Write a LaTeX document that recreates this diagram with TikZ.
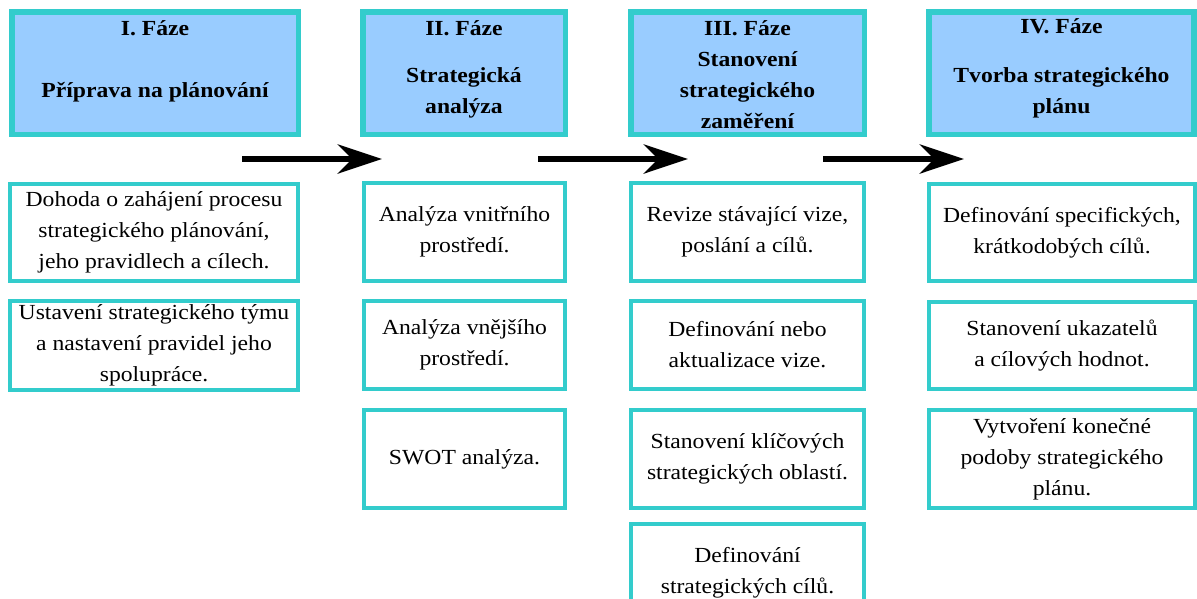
\documentclass[tikz,border=0pt]{standalone}
\usepackage{fontspec}
\setmainfont{Liberation Serif}[FakeStretch=1.1]
\usetikzlibrary{arrows.meta}
\definecolor{phaseline}{HTML}{33CCCC}
\definecolor{phasefill}{HTML}{99CCFF}
\tikzset{
  phasebox/.style={draw=phaseline, fill=phasefill, line width=5.5pt, rectangle, inner sep=0pt},
  phasetext/.style={font=\fontsize{21.5}{31}\selectfont\bfseries, align=center, anchor=north, inner sep=0pt},
  stepbox/.style={draw=phaseline, line width=4pt, rectangle, inner sep=0pt,
    font=\fontsize{21.5}{31}\selectfont, align=center},
  flow/.style={line width=6.7pt, -{Stealth[length=44pt,width=29pt,inset=14pt]}}
}
\begin{document}
\begin{tikzpicture}[x=1pt, y=-1pt]
\clip (0,0) rectangle (1197,598);
\fill[white] (0,0) rectangle (1197,598);

% phase headers
\node[phasebox, minimum width=286.5pt, minimum height=122.5pt] (h1) at (155,73) {};
\node[phasebox, minimum width=202.5pt, minimum height=122.5pt] (h2) at (464,73) {};
\node[phasebox, minimum width=233.5pt, minimum height=122.5pt] (h3) at (747.5,73) {};
\node[phasebox, minimum width=265pt, minimum height=122.5pt] (h4) at (1061.5,73) {};

\node[phasetext] (t1) at (155,13.3) {\strut I. Fáze\\[31pt]Příprava na plánování};
\node[phasetext] (t2) at (464,13.3) {\strut II. Fáze\\[16pt]Strategická\\analýza};
\node[phasetext] (t3) at (747.5,13.3) {\strut III. Fáze\\Stanovení\\strategického\\zaměření};
\node[phasetext] (t4) at (1061.5,12) {\strut IV. Fáze\\[17.5pt]Tvorba strategického\\plánu};

% arrows between the phases
\coordinate (a1s) at (242,159);
\coordinate (a1e) at (382,159);
\coordinate (a2s) at (538,159);
\coordinate (a2e) at (688,159);
\coordinate (a3s) at (823,159);
\coordinate (a3e) at (964,159);
\draw[flow] (a1s) -- (a1e);
\draw[flow] (a2s) -- (a2e);
\draw[flow] (a3s) -- (a3e);

% phase I steps
\node[stepbox, minimum width=288pt, minimum height=97pt] (s11) at (154,232.5)
  {Dohoda o zahájení procesu\\strategického plánování,\\jeho pravidlech a cílech.};
\node[stepbox, minimum width=288pt, minimum height=89pt] (s12) at (154,345.5)
  {Ustavení strategického týmu\\a nastavení pravidel jeho\\spolupráce.};

% phase II steps
\node[stepbox, minimum width=201pt, minimum height=98pt] (s21) at (464.5,232)
  {Analýza vnitřního\\prostředí.};
\node[stepbox, minimum width=201pt, minimum height=88pt] (s22) at (464.5,345)
  {Analýza vnějšího\\prostředí.};
\node[stepbox, minimum width=201pt, minimum height=98pt] (s23) at (464.5,459)
  {SWOT analýza.};

% phase III steps
\node[stepbox, minimum width=233pt, minimum height=98pt] (s31) at (747.5,232)
  {Revize stávající vize,\\poslání a cílů.};
\node[stepbox, minimum width=233pt, minimum height=88pt] (s32) at (747.5,345)
  {Definování nebo\\aktualizace vize.};
\node[stepbox, minimum width=233pt, minimum height=98pt] (s33) at (747.5,459)
  {Stanovení klíčových\\strategických oblastí.};
\node[stepbox, minimum width=233pt, minimum height=98pt] (s34) at (747.5,573)
  {Definování\\strategických cílů.};

% phase IV steps
\node[stepbox, minimum width=266pt, minimum height=97pt] (s41) at (1062,232.5)
  {Definování specifických,\\krátkodobých cílů.};
\node[stepbox, minimum width=266pt, minimum height=87pt] (s42) at (1062,345.5)
  {Stanovení ukazatelů\\a cílových hodnot.};
\node[stepbox, minimum width=266pt, minimum height=98pt] (s43) at (1062,459)
  {Vytvoření konečné\\podoby strategického\\plánu.};
\end{tikzpicture}
\end{document}
